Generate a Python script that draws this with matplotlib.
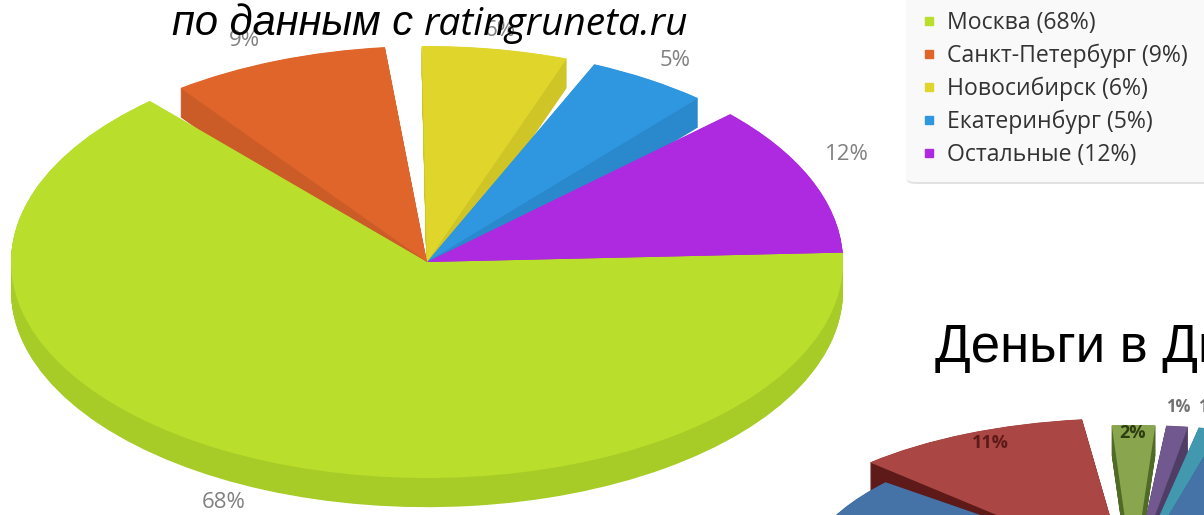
import matplotlib
matplotlib.use('Agg')
import numpy as np
import matplotlib.pyplot as plt
from matplotlib.lines import Line2D
from matplotlib.patches import FancyBboxPatch

W, H = 1204, 515

# === data ===
cities = ['Москва', 'Санкт-Петербург', 'Новосибирск', 'Екатеринбург', 'Остальные']
shares = [68, 9, 6, 5, 12]
gaps = [1.6, 1.5, 1.2, 1.8, 0]   # empty space after each slice
top_colors = ['#b9de2c', '#e0652b', '#e0d62b', '#2f96e0', '#ae2ae0']
side_colors = ['#a8cc27', '#cc5c27', '#cfc527', '#2a88cc', '#9f26cc']

# second chart, mostly off the picture
money_shares = [1, 1, 2, 11, 15, 70]
money_gaps = [0.5, 0.5, 1.0, 1.5, 0, 0]
money_labels = ['1%', '1%', '2%', '11%']
money_top = ['#4198af', '#71588f', '#89a54e', '#aa4643', '#4572a7', '#4572a7']
money_side = ['#2f7186', '#4f3d66', '#4f6b25', '#5e1a18', '#2f5079', '#2f5079']


def px_axes(fig, cx, cy, rx, ry):
    # axes where the unit circle lands on an ellipse given in pixels
    return fig.add_axes([(cx - rx) / W, 1 - (cy + ry) / H, 2 * rx / W, 2 * ry / H])


def with_gaps(values, spaces, tops, sides):
    sizes, c_top, c_side = [], [], []
    for v, g, t, s in zip(values, spaces, tops, sides):
        sizes += [v, g]
        c_top += [t, 'none']
        c_side += [s, 'none']
    return sizes, c_top, c_side


def solid_pie(ax, sizes, c_top, c_side, depth, start, counterclock, explode=None):
    # stack shifted pies for the thick side, flat top goes last
    for k in np.linspace(depth, 0.002, 40):
        ax.pie(sizes, colors=c_side, center=(0, -k), startangle=start, radius=1,
               counterclock=counterclock, explode=explode, normalize=True,
               wedgeprops={'clip_on': False, 'linewidth': 0})
    ax.pie(sizes, colors=c_top, center=(0, 0), startangle=start, radius=1,
           counterclock=counterclock, explode=explode, normalize=True,
           wedgeprops={'clip_on': False, 'linewidth': 0})
    ax.set_aspect('auto')
    ax.set_xlim(-1, 1)
    ax.set_ylim(-1, 1)
    ax.axis('off')


fig = plt.figure(figsize=(W / 100, H / 100), dpi=100, facecolor='white')

# --- main pie ---
ax1 = px_axes(fig, 427, 262, 416, 216)
s1, t1, d1 = with_gaps(shares, gaps, top_colors, side_colors)
solid_pie(ax1, s1, t1, d1, 0.135, 362.5, False)

# --- second pie ---
ax2 = px_axes(fig, 1133, 575, 360, 150)
s2, t2, d2 = with_gaps(money_shares, money_gaps, money_top, money_side)
ex2 = [0] * len(s2)
ex2[6] = 0.05    # red slice
ex2[8] = -0.085  # blue slice sits further in
solid_pie(ax2, s2, t2, d2, 0.2, 76, True, explode=ex2)


def fig_text(x, y, s, **kw):
    return fig.text(x / W, 1 - y / H, s, ha='center', va='center', **kw)


# --- value labels ---
grey = '#808080'
label_font = ['Open Sans', 'DejaVu Sans']
for x, y, v in [(224, 503, shares[0]), (244, 41, shares[1]), (500, 31, shares[2]),
                (675, 60, shares[3]), (847, 154, shares[4])]:
    fig_text(x, y, f'{v}%', fontsize=16, color=grey, family=label_font)

fig_text(1178, 407, money_labels[0], fontsize=12, color='#707070', weight='bold', family=label_font)
fig_text(1210, 407, money_labels[1], fontsize=12, color='#707070', weight='bold', family=label_font)
fig_text(1133, 433, money_labels[2], fontsize=13, color='#2d3d10', weight='bold', family=label_font)
fig_text(990, 443, money_labels[3], fontsize=13, color='#5e1a18', weight='bold', family=label_font)

# --- headings ---
fig.text(172 / W, 1 - 35 / H, 'по данным с', fontsize=30, style='italic',
         family='Liberation Sans', color='black', ha='left', va='baseline', zorder=10)
fig.text(424 / W, 1 - 35 / H, 'ratingruneta.ru', fontsize=28, style='italic',
         family='Open Sans', color='black', ha='left', va='baseline', zorder=10)
fig.text(935 / W, 1 - 362 / H, 'Деньги в Ди', fontsize=38, family='Liberation Sans',
         color='black', ha='left', va='baseline')

# --- legend ---
shadow = FancyBboxPatch((907 / W, 1 - 184 / H), 340 / W, 220 / H, boxstyle='round,pad=0,rounding_size=0.008',
                        transform=fig.transFigure, facecolor='#e2e2e2', edgecolor='none', zorder=3)
box = FancyBboxPatch((906 / W, 1 - 182 / H), 340 / W, 220 / H, boxstyle='round,pad=0,rounding_size=0.008',
                     transform=fig.transFigure, facecolor='#f9f9f9', edgecolor='none', zorder=3)
fig.add_artist(shadow)
fig.add_artist(box)
handles = [Line2D([], [], linestyle='none', marker='s', markersize=6, color=c) for c in top_colors]
names = [f'{c} ({v}%)' for c, v in zip(cities, shares)]
leg = fig.legend(handles, names, loc='upper left', bbox_to_anchor=(899 / W, 1 + 7 / H), frameon=False,
                 labelspacing=0.37, handletextpad=0.3, handlelength=1.0,
                 labelcolor='#333333', prop={'family': 'Open Sans', 'size': 16.6}, borderpad=0.3)
leg.set_zorder(5)

fig.savefig('out.png', dpi=100)
